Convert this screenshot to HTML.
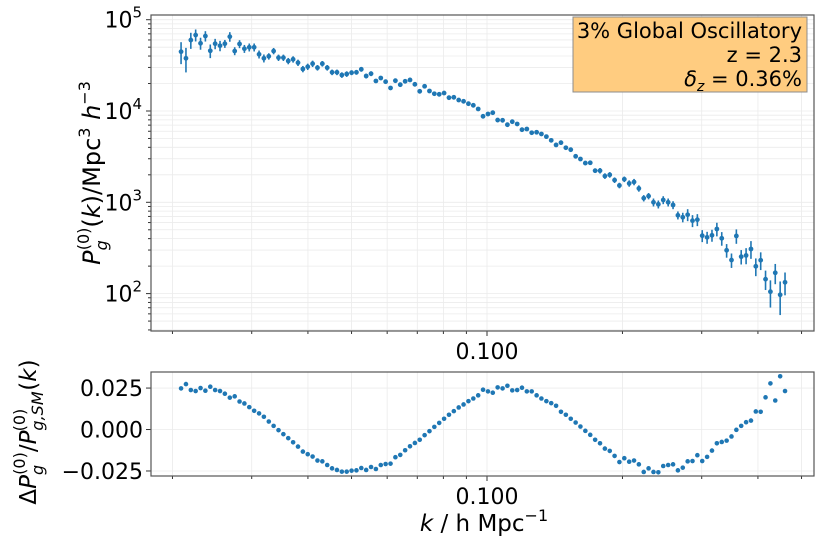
<!DOCTYPE html>
<html><head><meta charset="utf-8">
<style>
html,body{margin:0;padding:0;background:#fff;}
svg{display:block;font-family:"DejaVu Sans","Liberation Sans",sans-serif;}
</style></head>
<body>
<svg id="fig" width="826" height="551" viewBox="0 0 826 551" xmlns="http://www.w3.org/2000/svg">
  <rect x="0" y="0" width="826" height="551" fill="#fff"/>
  <g id="topGrid"></g>
  <g id="botGrid"></g>
  <g id="topMarks"></g>
  <g id="botMarks"></g>
  <g id="axes"></g>
  <g>
    <rect x="573" y="17" width="234" height="75" fill="#ffcc80" stroke="#8c8c8c" stroke-width="1"/>
    <text x="802" y="38" text-anchor="end" font-size="21" fill="#000">3% Global Oscillatory</text>
    <text x="802" y="62" text-anchor="end" font-size="21" fill="#000">z = 2.3</text>
    <text x="802" y="86" text-anchor="end" font-size="21" fill="#000"><tspan font-style="italic">δ</tspan><tspan font-style="italic" font-size="14" dy="5">z</tspan><tspan dy="-5"> = 0.36%</tspan></text>
  </g>
  <text transform="translate(100,173) rotate(-90)" text-anchor="middle" font-size="24" fill="#000"><tspan font-style="italic">P</tspan><tspan font-style="italic" font-size="16" dy="7">g</tspan><tspan font-size="16" dx="-10" dy="-18">(0)</tspan><tspan dy="11">(</tspan><tspan font-style="italic">k</tspan><tspan>)/Mpc</tspan><tspan font-size="16" dy="-10">3</tspan><tspan dy="10"> </tspan><tspan font-style="italic">h</tspan><tspan font-size="16" dy="-10">−3</tspan></text>
  <text transform="translate(36,432) rotate(-90)" text-anchor="middle" font-size="23" fill="#000"><tspan>Δ</tspan><tspan font-style="italic">P</tspan><tspan font-style="italic" font-size="16" dy="7">g</tspan><tspan font-size="16" dx="-10" dy="-18">(0)</tspan><tspan dy="11">/</tspan><tspan font-style="italic">P</tspan><tspan font-style="italic" font-size="16" dy="7">g,SM</tspan><tspan font-size="16" dx="-40" dy="-18">(0)</tspan><tspan dx="18" dy="11">(</tspan><tspan font-style="italic">k</tspan><tspan>)</tspan></text>
  <text x="484" y="531" text-anchor="middle" font-size="23" fill="#000"><tspan font-style="italic">k</tspan><tspan> / h  Mpc</tspan><tspan font-size="16" dy="-10">−1</tspan></text>
</svg>
<script>
// ---- data ----
const kValues = [0.02090,0.02143,0.02197,0.02252,0.02309,0.02367,0.02427,0.02488,0.02551,0.02615,
0.02682,0.02750,0.02819,0.02890,0.02963,0.03038,0.03115,0.03193,0.03274,0.03356,
0.03441,0.03528,0.03617,0.03708,0.03802,0.03898,0.03996,0.04097,0.04200,0.04306,
0.04415,0.04526,0.04641,0.04758,0.04878,0.05001,0.05127,0.05256,0.05389,0.05525,
0.05664,0.05807,0.05953,0.06104,0.06258,0.06416,0.06578,0.06744,0.06914,0.07088,
0.07267,0.07450,0.07638,0.07831,0.08029,0.08232,0.08439,0.08652,0.08870,0.09094,
0.09324,0.09559,0.09800,0.1005,0.1030,0.1056,0.1083,0.1110,0.1138,0.1167,
0.1196,0.1226,0.1257,0.1289,0.1321,0.1355,0.1389,0.1424,0.1460,0.1497,
0.1535,0.1574,0.1613,0.1654,0.1696,0.1739,0.1783,0.1828,0.1874,0.1921,
0.1969,0.2019,0.2070,0.2122,0.2175,0.2230,0.2286,0.2344,0.2403,0.2464,
0.2527,0.2591,0.2656,0.2723,0.2792,0.2862,0.2934,0.3008,0.3084,0.3162,
0.3242,0.3324,0.3408,0.3494,0.3582,0.3672,0.3765,0.3860,0.3957,0.4057,
0.4159,0.4264,0.4371,0.4482,0.4595];
const powerValues = [44650,37800,59900,67950,55170,66240,45710,54580,51880,54580,
65160,45400,54200,48100,49880,49880,41780,37800,39720,45400,
38370,38370,35300,36810,33810,28840,30550,32960,29790,32960,
29790,26550,26550,24790,25420,26280,26550,28640,24170,25640,
21320,22980,20940,17870,21480,19410,21140,21880,19590,16440,
18660,16560,15460,15240,15740,13990,14130,13190,12760,12020,
11540,10520,8750,9270,9580,7960,7910,7080,7640,7210,
6240,6350,5780,5850,5600,5240,4770,4250,4500,3960,
3770,3190,2980,2690,2710,2220,2220,1940,2000,1750,
1530,1790,1610,1670,1420,1110,1170,1000,951,1060,
1000,934,721,686,731,629,645,431,413,435,
510,403,298,233,428,254,262,308,199,232,
144,105,169,97,133];
const relErrors = [0.27,0.3,0.2,0.15,0.15,0.13,0.17,0.13,0.13,0.1,
0.12,0.1,0.1,0.1,0.1,0.1,0.1,0.1,0.08,0.08,
0.08,0.08,0.08,0.08,0.08,0.08,0.08,0.08,0.07,0.07,
0.07,0.07,0.07,0.07,0.07,0.06,0.06,0.06,0.06,0.06,
0.05,0.05,0.05,0.05,0.05,0.05,0.05,0.05,0.05,0.05,
0.05,0.05,0.05,0.05,0.05,0.05,0.05,0.05,0.05,0.05,
0.05,0.05,0.05,0.05,0.05,0.05,0.05,0.05,0.05,0.05,
0.05,0.05,0.05,0.05,0.05,0.05,0.05,0.05,0.05,0.05,
0.05,0.05,0.05,0.05,0.05,0.05,0.07,0.07,0.07,0.07,
0.07,0.07,0.08,0.08,0.08,0.08,0.08,0.1,0.1,0.1,
0.1,0.1,0.1,0.12,0.15,0.15,0.15,0.15,0.15,0.15,
0.17,0.17,0.17,0.18,0.18,0.18,0.2,0.22,0.22,0.22,
0.24,0.33,0.25,0.4,0.28];
const residualValues = [0.0248,0.0274,0.0238,0.0232,0.0250,0.0234,0.0258,0.0238,0.0232,0.0216,
0.0192,0.0200,0.0169,0.0157,0.0135,0.0113,0.0097,0.0077,0.0048,0.0022,
-0.0004,-0.0028,-0.0052,-0.0077,-0.0103,-0.0133,-0.0149,-0.0163,-0.0187,-0.0192,
-0.0214,-0.0234,-0.0244,-0.0254,-0.0254,-0.0248,-0.0246,-0.0232,-0.0244,-0.0226,
-0.0238,-0.0214,-0.0208,-0.0206,-0.0167,-0.0153,-0.0125,-0.0101,-0.0081,-0.0062,
-0.0034,-0.0010,0.0016,0.0040,0.0065,0.0089,0.0111,0.0133,0.0151,0.0171,
0.0187,0.0206,0.0240,0.0230,0.0222,0.0254,0.0248,0.0264,0.0236,0.0238,
0.0252,0.0230,0.0230,0.0206,0.0187,0.0171,0.0159,0.0143,0.0107,0.0089,
0.0065,0.0042,0.0018,-0.0008,-0.0032,-0.0062,-0.0083,-0.0115,-0.0129,-0.0159,
-0.0196,-0.0173,-0.0194,-0.0187,-0.0210,-0.0256,-0.0234,-0.0256,-0.0258,-0.0220,
-0.0214,-0.0210,-0.0246,-0.0230,-0.0192,-0.0190,-0.0155,-0.0190,-0.0165,-0.0127,
-0.0083,-0.0075,-0.0067,-0.0042,-0.0002,0.0022,0.0044,0.0054,0.0109,0.0107,
0.0194,0.0278,0.0175,0.0321,0.0232];
const topYTickValues = [100,1000,10000,100000];
const topYTickExps = ["2","3","4","5"];
const botYTickValues = [0.025,0,-0.025];
const botYTickLabels = ["0.025","0.000","\u22120.025"];
const xMajorTicks = [0.1];
const xMajorLabels = ["0.100"];
const xMinorTicks = [0.02,0.03,0.04,0.05,0.06,0.07,0.08,0.09,0.2,0.3,0.4,0.5];

// ---- layout ----
const NS = "http://www.w3.org/2000/svg";
const L = 151, R = 814;
const topT = 15, topB = 331, botT = 372, botB = 476;
const xLogMin = Math.log10(0.1) - (487 - L) / 450, xLogMax = Math.log10(0.1) + (R - 487) / 450;
const yLogMin = 4 - (topB - 111) / 91.3, yLogMax = 4 + (111 - topT) / 91.3;
const rMin = -0.025 - (botB - 471) / 41.3 * 0.025, rMax = 0.025 + (388 - botT) / 41.3 * 0.025;
function xScale(k){ return L + (Math.log10(k) - xLogMin) / (xLogMax - xLogMin) * (R - L); }
function yTop(p){ return topB - (Math.log10(p) - yLogMin) / (yLogMax - yLogMin) * (topB - topT); }
function yBot(v){ return botB - (v - rMin) / (rMax - rMin) * (botB - botT); }
function mk(tag, attrs, parent){ const e = document.createElementNS(NS, tag); for (const a in attrs) e.setAttribute(a, attrs[a]); parent.appendChild(e); return e; }

const topGrid = document.getElementById('topGrid');
const botGrid = document.getElementById('botGrid');
const axes = document.getElementById('axes');
const topMarks = document.getElementById('topMarks');
const botMarks = document.getElementById('botMarks');

xMinorTicks.concat(xMajorTicks).forEach(k => {
  const x = xScale(k);
  const g1 = mk('line', {x1:x, x2:x, y1:topT, y2:topB, stroke:'#ebebeb', 'stroke-width':0.8}, topGrid);
  
  
  const g2 = mk('line', {x1:x, x2:x, y1:botT, y2:botB, stroke:'#ebebeb', 'stroke-width':0.8}, botGrid);
  
  
  const major = xMajorTicks.includes(k);
  const len = major ? 5 : 3;
  const t1 = mk('line', {x1:x, x2:x, y1:topB, y2:topB + len, stroke:'#333', 'stroke-width':1}, axes);
  
  
  const t2 = mk('line', {x1:x, x2:x, y1:botB, y2:botB + len, stroke:'#333', 'stroke-width':1}, axes);
  
  
});
xMajorTicks.forEach((k, i) => {
  const x = xScale(k);
  const a = mk('text', {x:x, y:topB + 28, 'text-anchor':'middle', 'font-size':22, fill:'#000'}, axes);
  a.textContent = xMajorLabels[i];
  
  
  const b = mk('text', {x:x, y:botB + 28, 'text-anchor':'middle', 'font-size':22, fill:'#000'}, axes);
  b.textContent = xMajorLabels[i];
  
  
});

for (let e = 1; e <= 5; e++) {
  for (let m = 1; m <= 9; m++) {
    const p = m * Math.pow(10, e);
    const lp = Math.log10(p);
    if (lp < yLogMin || lp > yLogMax) continue;
    const y = yTop(p);
    const gl = mk('line', {x1:L, x2:R, y1:y, y2:y, stroke:'#ebebeb', 'stroke-width':0.8}, topGrid);
    
    
    const tk = mk('line', {x1:L - (m === 1 ? 5 : 3), x2:L, y1:y, y2:y, stroke:'#333', 'stroke-width':1}, axes);
    
    
  }
}
topYTickValues.forEach((p, i) => {
  const y = yTop(p);
  const t = mk('text', {x:142, y:y + 8, 'text-anchor':'end', 'font-size':22, fill:'#000'}, axes);
  
  
  const base = mk('tspan', {}, t); base.textContent = '10';
  const sup = mk('tspan', {'font-size':15, dy:-10}, t); sup.textContent = topYTickExps[i];
});

botYTickValues.forEach((v, i) => {
  const y = yBot(v);
  const gl = mk('line', {x1:L, x2:R, y1:y, y2:y, stroke:'#ebebeb', 'stroke-width':0.8}, botGrid);
  
  
  const tk = mk('line', {x1:L - 5, x2:L, y1:y, y2:y, stroke:'#333', 'stroke-width':1}, axes);
  
  
  const t = mk('text', {x:143, y:y + 8, 'text-anchor':'end', 'font-size':22, fill:'#000'}, axes);
  t.textContent = botYTickLabels[i];
  
  
});

const f1 = mk('rect', {x:L, y:topT, width:R - L, height:topB - topT, fill:'none', stroke:'#555', 'stroke-width':1.2}, axes);


const f2 = mk('rect', {x:L, y:botT, width:R - L, height:botB - botT, fill:'none', stroke:'#555', 'stroke-width':1.2}, axes);



kValues.forEach((k, i) => {
  const x = xScale(k), p = powerValues[i], s = p * relErrors[i];
  const eb = mk('line', {x1:x, x2:x, y1:yTop(p + s), y2:yTop(Math.max(p - s, p * 0.05)), stroke:'#1f77b4', 'stroke-width':1.6}, topMarks);
  
  
  const c = mk('circle', {cx:x, cy:yTop(p), r:2.4, fill:'#1f77b4'}, topMarks);
  
  
});
kValues.forEach((k, i) => {
  const c = mk('circle', {cx:xScale(k), cy:yBot(residualValues[i]), r:2.3, fill:'#1f77b4'}, botMarks);
  
  
});
</script>
</body></html>
